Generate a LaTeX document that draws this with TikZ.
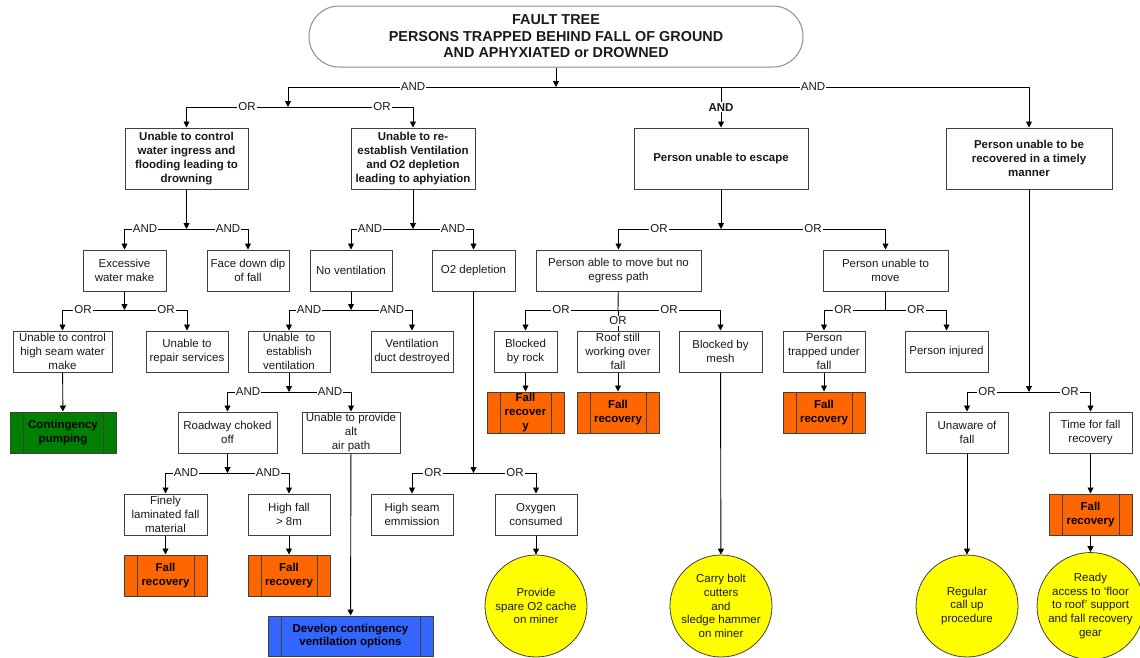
\documentclass[tikz,border=0pt]{standalone}
\usepackage{fontspec}
\setmainfont{Liberation Sans}
\usetikzlibrary{arrows.meta}
\definecolor{bord}{HTML}{404040}
\definecolor{topbord}{HTML}{8C8C8C}
\definecolor{txt}{HTML}{1A1A1A}
\definecolor{orng}{HTML}{FF6600}
\definecolor{grn}{HTML}{008000}
\definecolor{blu}{HTML}{3366FF}
\definecolor{ylw}{HTML}{FFFF00}
\newcommand\bxfont{\fontsize{11.5}{13.8}\selectfont}
\newcommand\ttlfont{\fontsize{14.4}{16.6}\selectfont}
\tikzset{
  wh/.style 2 args={minimum width=#1pt, minimum height=#2pt},
  box/.style={draw=bord, line width=1pt, fill=white, align=center, inner sep=1pt, font=\bxfont, text=txt},
  bbox/.style={box, font=\bxfont\bfseries},
  proc/.style={box, font=\bxfont\bfseries, text=black,
    path picture={\draw[bord, line width=1pt]
      ([xshift=13pt]path picture bounding box.north west) -- ([xshift=13pt]path picture bounding box.south west)
      ([xshift=-13pt]path picture bounding box.north east) -- ([xshift=-13pt]path picture bounding box.south east);}},
  fallrec/.style={proc, fill=orng},
  circ/.style={circle, draw=bord, line width=0.8pt, fill=ylw, align=center, minimum size=102pt, inner sep=0pt, font=\bxfont, text=txt},
  lbl/.style={fill=white, inner sep=1pt, font=\bxfont, text=txt},
  ln/.style={draw=black, line width=0.9pt},
  arr/.style={ln, -{Triangle[length=6pt,width=6pt]}},
  titlebox/.style={draw=topbord, line width=1pt, rounded corners=30pt, align=center, font=\ttlfont\bfseries, text=txt, wh={494}{61}}
}
\begin{document}
\begin{tikzpicture}[x=1pt,y=-1pt]
\useasboundingbox (0,0) rectangle (1140,657);

% ---------- nodes ----------
\node[titlebox] (top) at (556,36.5) {FAULT TREE\\PERSONS TRAPPED BEHIND FALL OF GROUND\\AND APHYXIATED or DROWNED};

\node[bbox, wh={123}{61}] (b1) at (186.5,158.5) {Unable to control\\water ingress and\\flooding leading to\\drowning};
\node[bbox, wh={124}{61}] (b2) at (413,158.5) {Unable to re-\\establish Ventilation\\and O2 depletion\\leading to aphyiation};
\node[bbox, wh={174}{61}] (b3) at (721,158.5) {Person unable to escape};
\node[bbox, wh={166}{61}] (b4) at (1029,158.5) {Person unable to be\\recovered in a timely\\manner};

\node[box, wh={83}{41}] (exc) at (124.5,270.5) {Excessive\\water make};
\node[box, wh={82}{41}] (face) at (248,270.5) {Face down dip\\of fall};
\node[box, wh={82}{41}] (nov) at (351,270.5) {No ventilation};
\node[box, wh={83}{41}] (o2d) at (473.5,270.5) {O2 depletion};
\node[box, wh={165}{41}] (pam) at (618.5,270.5) {Person able to move but no\\egress path};
\node[box, wh={125}{41}] (pum) at (885.5,270.5) {Person unable to\\move};

\node[box, wh={99}{41}] (hsw) at (62.5,351.5) {Unable to control\\high seam water\\make};
\node[box, wh={82}{41}] (rep) at (187,351.5) {Unable to\\repair services};
\node[box, wh={82}{41}] (ues) at (289,351.5) {Unable\ \ to\\establish\\ventilation};
\node[box, wh={82}{41}] (vdd) at (412,351.5) {Ventilation\\duct destroyed};
\node[box, wh={63}{41}] (bbr) at (525.5,351.5) {Blocked\\by rock};
\node[box, wh={82}{41}] (rsw) at (618,351.5) {Roof still\\working over\\fall};
\node[box, wh={83}{41}] (bbm) at (720.5,351.5) {Blocked by\\mesh};
\node[box, wh={82}{41}] (ptu) at (824,351.5) {Person\\trapped under\\fall};
\node[box, wh={83}{41}] (pin) at (946.5,351.5) {Person injured};

\node[proc, fill=grn, wh={106}{41}] (cp) at (63,432.5) {Contingency\\pumping};
\node[box, wh={99}{41}] (rco) at (227.5,432.5) {Roadway choked\\off};
\node[box, wh={98}{41}] (upa) at (351,432.5) {Unable to provide\\alt\\air path};
\node[fallrec, wh={77}{41}] (fr1) at (525.5,412.5) {Fall\\recover\\y};
\node[fallrec, wh={82}{41}] (fr2) at (618,412.5) {Fall\\recovery};
\node[fallrec, wh={82}{41}] (fr3) at (824,412.5) {Fall\\recovery};
\node[box, wh={82}{41}] (unf) at (967,432.5) {Unaware of\\fall};
\node[box, wh={83}{41}] (tfr) at (1090.5,432.5) {Time for fall\\recovery};

\node[box, wh={83}{41}] (flf) at (165.5,514.5) {Finely\\laminated fall\\material};
\node[box, wh={82}{41}] (hf) at (289,514.5) {High fall\\> 8m};
\node[box, wh={82}{41}] (hse) at (412,514.5) {High seam\\emmission};
\node[box, wh={82}{41}] (oxc) at (536,514.5) {Oxygen\\consumed};
\node[fallrec, wh={83}{41}] (fr6) at (1090.5,514.5) {Fall\\recovery};

\node[fallrec, wh={83}{41}] (fr4) at (165.5,575.5) {Fall\\recovery};
\node[fallrec, wh={82}{41}] (fr5) at (289,575.5) {Fall\\recovery};
\node[proc, fill=blu, wh={165}{40}] (dcv) at (350.5,636) {Develop contingency\\ventilation options};

\node[circ] (c1) at (536,606) {Provide\\spare O2 cache\\on miner};
\node[circ] (c2) at (721,606) {Carry bolt\\cutters\\and\\sledge hammer\\on miner};
\node[circ] (c3) at (967,606) {Regular\\call up\\procedure};
\node[circ, minimum size=100pt] (c4) at (1090.5,606) {Ready\\access to `floor\\to roof' support\\and fall recovery\\gear};

% ---------- gate junctions ----------
\coordinate (g0) at (556,87);
\coordinate (g1) at (288,107);
\coordinate (g2) at (186.5,229);
\coordinate (g3) at (413,229);
\coordinate (g4) at (721,229);
\coordinate (g5) at (124.5,310);
\coordinate (g6) at (351,310);
\coordinate (g7) at (618,310);
\coordinate (g8) at (885.5,310);
\coordinate (g9) at (289,392);
\coordinate (g10) at (1029,392);
\coordinate (g11) at (227.5,473);
\coordinate (g12) at (473.5,473);

% top AND gate
\draw[arr] (top) -- (g0);
\draw[arr] (g0) -| (g1);
\draw[arr] (g0) -| (b4);
\draw[arr] (g0 -| b3) -- node[lbl, font=\bxfont\bfseries] {AND} (b3);
\node[lbl] (l0a) at (413,87) {AND};
\node[lbl] (l0b) at (813,87) {AND};

% OR under left
\draw[arr] (g1) -| (b1);
\draw[arr] (g1) -| (b2);
\node[lbl] (l1a) at (247,107) {OR};
\node[lbl] (l1b) at (382,107) {OR};

% b1 AND
\draw[arr] (b1) -- (g2);
\draw[arr] (g2) -| (exc);
\draw[arr] (g2) -| (face);
\node[lbl] (l2a) at (145,229) {AND};
\node[lbl] (l2b) at (228,229) {AND};

% b2 AND
\draw[arr] (b2) -- (g3);
\draw[arr] (g3) -| (nov);
\draw[arr] (g3) -| (o2d);
\node[lbl] (l3a) at (370,229) {AND};
\node[lbl] (l3b) at (453,229) {AND};

% b3 OR
\draw[arr] (b3) -- (g4);
\draw[arr] (g4) -| (pam);
\draw[arr] (g4) -| (pum);
\node[lbl] (l4a) at (659,229) {OR};
\node[lbl] (l4b) at (813,229) {OR};

% exc OR
\draw[arr] (exc) -- (g5);
\draw[arr] (g5) -| (hsw);
\draw[arr] (g5) -| (rep);
\node[lbl] (l5a) at (83,310) {OR};
\node[lbl] (l5b) at (166,310) {OR};

% nov AND
\draw[arr] (nov) -- (g6);
\draw[arr] (g6) -| (ues);
\draw[arr] (g6) -| (vdd);
\node[lbl] (l6a) at (309,310) {AND};
\node[lbl] (l6b) at (392,310) {AND};

% pam OR
\draw[ln] (pam) -- (g7);
\draw[arr] (g7) -| (bbr);
\draw[arr] (g7) -| (bbm);
\draw[ln] (g7) -- (rsw);
\node[lbl] (l7a) at (561,310) {OR};
\node[lbl] (l7b) at (669,310) {OR};
\node[lbl] (l7c) at (618,321) {OR};

% pum OR
\draw[ln] (pum) -- (g8);
\draw[arr] (g8) -| (ptu);
\draw[arr] (g8) -| (pin);
\node[lbl] (l8a) at (843,310) {OR};
\node[lbl] (l8b) at (916,310) {OR};

% ues AND
\draw[arr] (ues) -- (g9);
\draw[arr] (g9) -| (rco);
\draw[arr] (g9) -| (upa);
\node[lbl] (l9a) at (248,392) {AND};
\node[lbl] (l9b) at (330,392) {AND};

% b4 OR
\draw[arr] (b4) -- (g10);
\draw[arr] (g10) -| (unf);
\draw[arr] (g10) -| (tfr);
\node[lbl] (l10a) at (987,392) {OR};
\node[lbl] (l10b) at (1070,392) {OR};

% rco AND
\draw[arr] (rco) -- (g11);
\draw[arr] (g11) -| (flf);
\draw[arr] (g11) -| (hf);
\node[lbl] (l11a) at (186,473) {AND};
\node[lbl] (l11b) at (268,473) {AND};

% o2d OR
\draw[arr] (o2d) -- (g12);
\draw[arr] (g12) -| (hse);
\draw[arr] (g12) -| (oxc);
\node[lbl] (l12a) at (433,473) {OR};
\node[lbl] (l12b) at (515,473) {OR};

% direct arrows
\draw[arr] (hsw) -- (cp);
\draw[arr] (bbr) -- (fr1);
\draw[arr] (rsw) -- (fr2);
\draw[arr] (ptu) -- (fr3);
\draw[arr] (flf) -- (fr4);
\draw[arr] (hf) -- (fr5);
\draw[arr] (upa) -- (dcv);
\draw[arr] (oxc) -- (c1);
\draw[arr] (bbm) -- (c2);
\draw[arr] (unf) -- (c3);
\draw[arr] (tfr) -- (fr6);
\draw[arr] (fr6) -- (c4);
\end{tikzpicture}
\end{document}
